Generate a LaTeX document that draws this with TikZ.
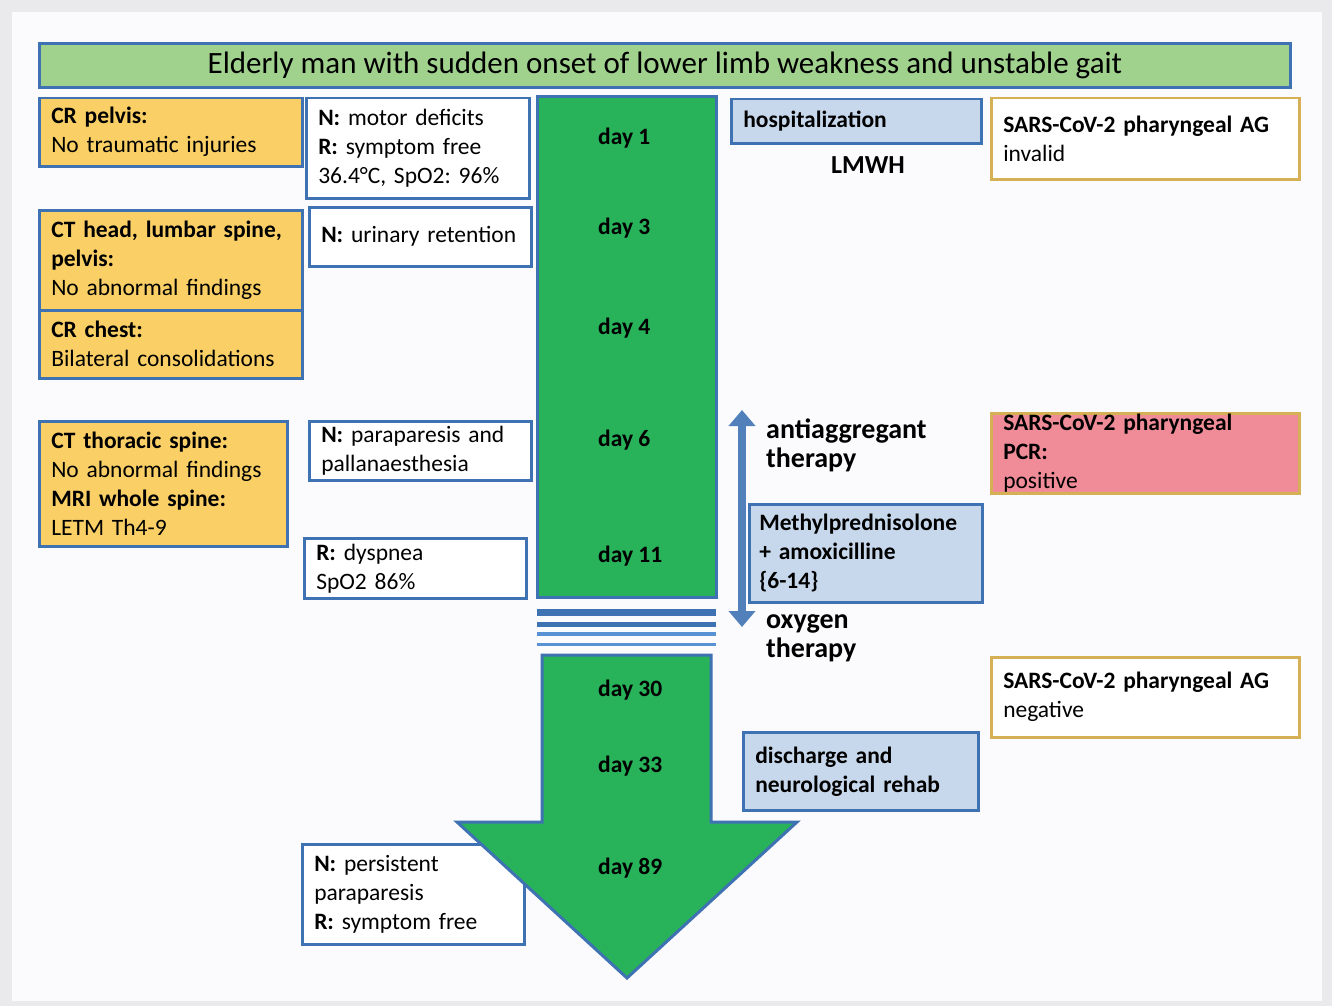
\documentclass[tikz,border=0pt]{standalone}
\usepackage{fontspec}
\setmainfont{Carlito}
\usepackage{xcolor}
\usepackage{tikz}
\usetikzlibrary{arrows.meta}
\frenchspacing

\definecolor{frameblue}{RGB}{62,114,178}
\definecolor{lineblue}{RGB}{88,146,212}
\definecolor{titlegreen}{RGB}{160,210,142}
\definecolor{bargreen}{RGB}{40,178,90}
\definecolor{boxyellow}{RGB}{250,208,102}
\definecolor{lightblue}{RGB}{200,216,236}
\definecolor{gold}{RGB}{214,176,84}
\definecolor{pcrpink}{RGB}{240,140,152}
\definecolor{framegray}{RGB}{234,234,237}
\definecolor{paper}{RGB}{251,251,253}

\tikzset{
    box/.style={draw=frameblue, line width=2.5pt, anchor=north west, inner xsep=12pt, inner ysep=2pt,
        align=left, font=\fontsize{23.5}{29}\selectfont},
    ybox/.style={box, fill=boxyellow},
    wbox/.style={box, fill=white},
    lbbox/.style={box, fill=lightblue, font=\fontsize{23.5}{29}\selectfont\bfseries},
    sarsbox/.style={box, draw=gold},
    daylbl/.style={anchor=west, inner sep=0pt, font=\fontsize{23.5}{29}\selectfont\bfseries},
    sidetxt/.style={anchor=west, inner sep=0pt, align=left, font=\fontsize{28}{29}\selectfont\bfseries},
}

\begin{document}
\begin{tikzpicture}[x=1pt, y=-1pt]
        % frame
        \fill[framegray] (0,0) rectangle (1332,1006);
        \fill[paper] (12,12) rectangle (1322,1001);
        \useasboundingbox (0,0) rectangle (1332,1006);

        % title
        \node[box, fill=titlegreen, line width=3pt, align=center, minimum width=1251, minimum height=44,
            font=\fontsize{31}{36}\selectfont] (title) at (38,42)
            {Elderly man with sudden onset of lower limb weakness and unstable gait};

        % imaging
        \node[ybox, minimum width=263, minimum height=68, text width=239] (crpelvis) at (38,97)
            {\textbf{CR pelvis:}\\No traumatic injuries};
        \node[ybox, minimum width=263, minimum height=100, text width=239] (cthead) at (38,209)
            {\textbf{CT head, lumbar spine,}\\\textbf{pelvis:}\\No abnormal findings};
        \node[ybox, minimum width=263, minimum height=68, text width=239] (crchest) at (38,309)
            {\textbf{CR chest:}\\Bilateral consolidations};
        \node[ybox, minimum width=248, minimum height=125, text width=224] (ctthor) at (38,420)
            {\textbf{CT thoracic spine:}\\No abnormal findings\\\textbf{MRI whole spine:}\\LETM Th4-9};

        % findings
        \node[wbox, minimum width=223, minimum height=100, text width=199] (motor) at (305,97)
            {\textbf{N:} motor deficits\\\textbf{R:} symptom free\\36.4°C, SpO2: 96\%};
        \node[wbox, minimum width=222, minimum height=59, text width=198] (urinary) at (308,206)
            {\textbf{N:} urinary retention};
        \node[wbox, minimum width=222, minimum height=59, text width=198] (parap) at (308,420)
            {\textbf{N:} paraparesis and\\pallanaesthesia};
        \node[wbox, minimum width=222, minimum height=60, text width=198] (dysp) at (303,537)
            {\textbf{R:} dyspnea\\SpO2 86\%};
        \node[wbox, minimum width=222, minimum height=100, text width=198] (persist) at (301,843)
            {\textbf{N:} persistent\\paraparesis\\\textbf{R:} symptom free};

        % timeline
        \draw[frameblue, line width=3pt, fill=bargreen] (537,97) rectangle (716,597);
        \draw[frameblue, line width=3pt, fill=bargreen]
            (542,655) -- (711,655) -- (711,822) -- (797,822) -- (627,978) -- (457,822) -- (542,822) -- cycle;
        \draw[frameblue, line width=7pt] (537,612) -- (716,612);
        \draw[frameblue, line width=5pt] (537,624) -- (716,624);
        \draw[lineblue, line width=4pt] (537,634) -- (716,634);
        \draw[lineblue, line width=3pt] (537,644) -- (716,644);

        \node[daylbl] (d1) at (598,138) {day 1};
        \node[daylbl] (d3) at (598,228) {day 3};
        \node[daylbl] (d4) at (598,328) {day 4};
        \node[daylbl] (d6) at (598,440) {day 6};
        \node[daylbl] (d11) at (598,556) {day 11};
        \node[daylbl] (d30) at (598,690) {day 30};
        \node[daylbl] (d33) at (598,766) {day 33};
        \node[daylbl] (d89) at (598,868) {day 89};

        % therapy
        \node[lbbox, minimum width=250, minimum height=44, text width=226] (hosp) at (730,98) {hospitalization};
        \node[sidetxt, anchor=center, font=\fontsize{26}{29}\selectfont\bfseries] (lmwh) at (868,165) {LMWH};
        \coordinate (abtop) at (742,410);
        \coordinate (abbot) at (742,627);
        \draw[{Triangle[width=26pt,length=16pt]}-{Triangle[width=26pt,length=16pt]}, line width=8pt, frameblue!90!white]
            (abtop) -- (abbot);
        \node[sidetxt] (antiagg) at (766,445) {antiaggregant\\therapy};
        \node[lbbox, inner xsep=10pt, minimum width=233, minimum height=98, text width=213] (methyl) at (748,503)
            {Methylprednisolone\\+ amoxicilline\\\{6-14\}};
        \node[sidetxt] (oxy) at (766,638) {oxygen\\therapy};
        \node[lbbox, minimum width=235, minimum height=78, text width=211] (disch) at (742,731)
            {discharge and\\neurological rehab};

        % SARS-CoV-2 tests
        \node[sarsbox, fill=white, minimum width=308, minimum height=81, text width=284] (sarsinv) at (990,97)
            {\textbf{SARS-CoV-2 pharyngeal AG}\\invalid};
        \node[sarsbox, fill=pcrpink, minimum width=308, minimum height=80, text width=284, inner ysep=0pt] (sarspcr) at (990,412)
            {\textbf{SARS-CoV-2 pharyngeal}\\\textbf{PCR:}\\positive};
        \node[sarsbox, fill=white, minimum width=308, minimum height=80, text width=284] (sarsneg) at (990,656)
            {\textbf{SARS-CoV-2 pharyngeal AG}\\negative};
\end{tikzpicture}
\end{document}
